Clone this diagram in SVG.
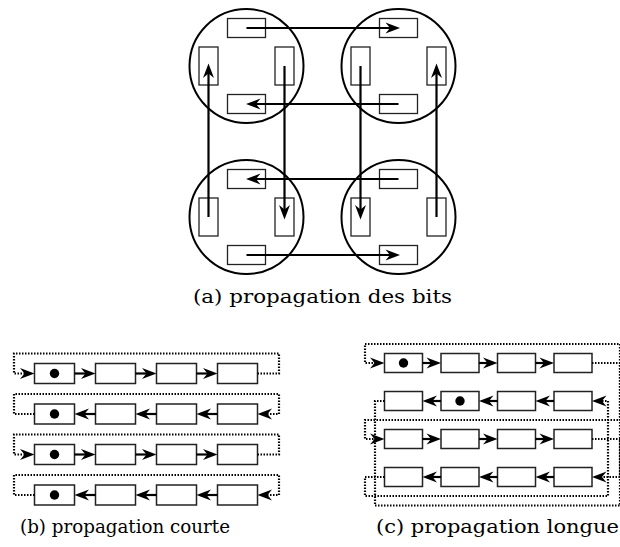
<svg xmlns="http://www.w3.org/2000/svg" width="620" height="547" viewBox="0 0 620 547">
<defs>
<style>
.bg{fill:#fff}
.ring{fill:none;stroke:#000;stroke-width:2}
.box{fill:#fff;stroke:#222;stroke-width:1.3}
.cell{fill:#fff;stroke:#222;stroke-width:1.5}
.dot{fill:#000}
.arr{fill:none;stroke:#000;stroke-width:2.2;marker-end:url(#stealth)}
.dotted{fill:none;stroke:#000;stroke-width:2.2;stroke-dasharray:1.5 1.5;marker-end:url(#stealth)}
.cap{font-family:"DejaVu Serif","Liberation Serif",serif;font-size:18px;fill:#000}
</style>
<marker id="stealth" markerUnits="userSpaceOnUse" viewBox="-11 -7 18 14" refX="0" refY="0" markerWidth="18" markerHeight="14" orient="auto">
<path d="M5,0 L-9.5,-5.5 L-5,0 L-9.5,5.5 Z" fill="#000"/>
</marker>
<g id="cellA"><rect x="-19" y="-47.5" width="38" height="19" class="box"/><rect x="-19" y="28.5" width="38" height="19" class="box"/><rect x="-47.5" y="-19" width="19" height="38" class="box"/><rect x="28.5" y="-19" width="19" height="38" class="box"/><circle r="57" class="ring"/></g>
</defs>
<rect class="bg" width="620" height="547"/>

<!-- (a) propagation des bits -->
<g id="nodeTL" transform="translate(246.5,66)"><use href="#cellA"/></g>
<g id="nodeTR" transform="translate(398.5,66)"><use href="#cellA"/></g>
<g id="nodeBL" transform="translate(246.5,217)"><use href="#cellA"/></g>
<g id="nodeBR" transform="translate(398.5,217)"><use href="#cellA"/></g>
<g id="connectorsA">
<path class="arr" d="M246.5,28 H395"/>
<path class="arr" d="M398.5,104 H251"/>
<path class="arr" d="M208.5,217 V68.5"/>
<path class="arr" d="M284.5,66 V214.5"/>
<path class="arr" d="M360.5,66 V214.5"/>
<path class="arr" d="M436.5,217 V68.5"/>
<path class="arr" d="M398.5,179 H251"/>
<path class="arr" d="M246.5,255 H395"/>
</g>
<text class="cap" x="193" y="303" textLength="259" lengthAdjust="spacingAndGlyphs">(a) propagation des bits</text>

<!-- (b) propagation courte -->
<g id="nodesB">
<g id="b1"><rect class="cell" x="34.5" y="363.5" width="40" height="20"/><circle class="dot" cx="54.5" cy="373.5" r="4.7"/><rect class="cell" x="95.5" y="363.5" width="40" height="20"/><rect class="cell" x="156.5" y="363.5" width="40" height="20"/><rect class="cell" x="217.5" y="363.5" width="40" height="20"/></g>
<g id="b2"><rect class="cell" x="34.5" y="404" width="40" height="20"/><circle class="dot" cx="54.5" cy="414" r="4.7"/><rect class="cell" x="95.5" y="404" width="40" height="20"/><rect class="cell" x="156.5" y="404" width="40" height="20"/><rect class="cell" x="217.5" y="404" width="40" height="20"/></g>
<g id="b3"><rect class="cell" x="34.5" y="444.5" width="40" height="20"/><circle class="dot" cx="54.5" cy="454.5" r="4.7"/><rect class="cell" x="95.5" y="444.5" width="40" height="20"/><rect class="cell" x="156.5" y="444.5" width="40" height="20"/><rect class="cell" x="217.5" y="444.5" width="40" height="20"/></g>
<g id="b4"><rect class="cell" x="34.5" y="485" width="40" height="20"/><circle class="dot" cx="54.5" cy="495" r="4.7"/><rect class="cell" x="95.5" y="485" width="40" height="20"/><rect class="cell" x="156.5" y="485" width="40" height="20"/><rect class="cell" x="217.5" y="485" width="40" height="20"/></g>
</g>
<g id="connectorsB">
<path class="arr" d="M74.5,373.5 H90.5"/><path class="arr" d="M135.5,373.5 H151.5"/><path class="arr" d="M196.5,373.5 H212.5"/>
<path class="arr" d="M95.5,414 H79.5"/><path class="arr" d="M156.5,414 H140.5"/><path class="arr" d="M217.5,414 H201.5"/>
<path class="arr" d="M74.5,454.5 H90.5"/><path class="arr" d="M135.5,454.5 H151.5"/><path class="arr" d="M196.5,454.5 H212.5"/>
<path class="arr" d="M95.5,495 H79.5"/><path class="arr" d="M156.5,495 H140.5"/><path class="arr" d="M217.5,495 H201.5"/>
<path class="dotted" d="M257.5,373.5 H279 V353.5 H14 V373.5 H29.5"/>
<path class="dotted" d="M34.5,414 H14 V394 H279 V414 H262.5"/>
<path class="dotted" d="M257.5,454.5 H279 V434.5 H14 V454.5 H29.5"/>
<path class="dotted" d="M34.5,495 H14 V475 H279 V495 H262.5"/>
</g>
<text class="cap" x="20" y="533" textLength="210" lengthAdjust="spacingAndGlyphs">(b) propagation courte</text>

<!-- (c) propagation longue -->
<g id="nodesC">
<g id="c1"><rect class="cell" x="384.5" y="353.5" width="38" height="19"/><circle class="dot" cx="403.5" cy="363" r="4.7"/><rect class="cell" x="441" y="353.5" width="38" height="19"/><rect class="cell" x="497.5" y="353.5" width="38" height="19"/><rect class="cell" x="554" y="353.5" width="38" height="19"/></g>
<g id="c2"><rect class="cell" x="384.5" y="391.5" width="38" height="19"/><rect class="cell" x="441" y="391.5" width="38" height="19"/><circle class="dot" cx="460" cy="401" r="4.7"/><rect class="cell" x="497.5" y="391.5" width="38" height="19"/><rect class="cell" x="554" y="391.5" width="38" height="19"/></g>
<g id="c3"><rect class="cell" x="384.5" y="429.5" width="38" height="19"/><rect class="cell" x="441" y="429.5" width="38" height="19"/><rect class="cell" x="497.5" y="429.5" width="38" height="19"/><rect class="cell" x="554" y="429.5" width="38" height="19"/></g>
<g id="c4"><rect class="cell" x="384.5" y="467.5" width="38" height="19"/><rect class="cell" x="441" y="467.5" width="38" height="19"/><rect class="cell" x="497.5" y="467.5" width="38" height="19"/><rect class="cell" x="554" y="467.5" width="38" height="19"/></g>
</g>
<g id="connectorsC">
<path class="arr" d="M422.5,363 H436"/><path class="arr" d="M479,363 H492.5"/><path class="arr" d="M535.5,363 H549"/>
<path class="arr" d="M441,401 H427.5"/><path class="arr" d="M497.5,401 H484"/><path class="arr" d="M554,401 H540.5"/>
<path class="arr" d="M422.5,439 H436"/><path class="arr" d="M479,439 H492.5"/><path class="arr" d="M535.5,439 H549"/>
<path class="arr" d="M441,477 H427.5"/><path class="arr" d="M497.5,477 H484"/><path class="arr" d="M554,477 H540.5"/>
<path class="dotted" d="M592,363 H620 V420 H365 V439 H379.5"/>
<path class="dotted" d="M592,439 H620 V477 H597"/>
<path class="dotted" d="M384.5,477 H365 V496 H608 V401 H597"/>
<path class="dotted" d="M384.5,401 H375 V505.5 H620 V344 H365 V363 H379.5"/>
</g>
<text class="cap" x="376" y="533" textLength="243" lengthAdjust="spacingAndGlyphs">(c) propagation longue</text>
</svg>
